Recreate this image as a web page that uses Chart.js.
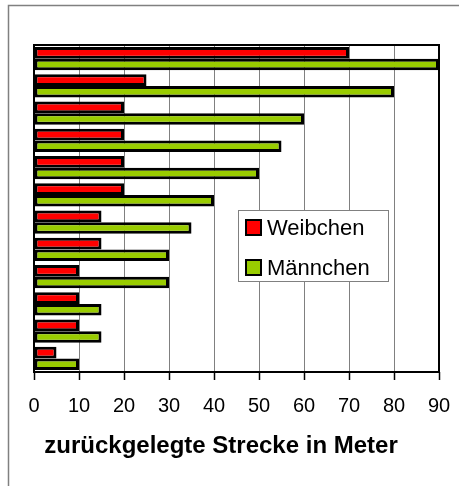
<!DOCTYPE html>
<html>
<head>
<meta charset="utf-8">
<script src="https://cdn.jsdelivr.net/npm/chart.js@4/dist/chart.umd.min.js"></script>
<style>
  html, body { margin: 0; padding: 0; background: #fff; }
  #wrap { width: 459px; height: 486px; position: relative; }
</style>
</head>
<body>
<div id="wrap"><canvas id="chart"></canvas></div>
<script>
// ------------ DATA -------------
const categories = ["1", "2", "3", "4", "5", "6", "7", "8", "9", "10", "11", "12"];
const weibchen = [70, 25, 20, 20, 20, 20, 15, 15, 10, 10, 10, 5];
const maennchen = [90, 80, 60, 55, 50, 40, 35, 30, 30, 15, 15, 10];
const xTicks = [0, 10, 20, 30, 40, 50, 60, 70, 80, 90];
const axisTitle = "zurückgelegte Strecke in Meter";

const FONT = "'Liberation Sans', Arial, sans-serif";

// frame, plot border, axis title and the legend box inside the plot
const decorPlugin = {
    id: "decor",
    beforeDraw(chart) {
        const ctx = chart.ctx;
        ctx.save();
        ctx.fillStyle = "#fff";
        ctx.fillRect(0, 0, chart.width, chart.height);
        ctx.strokeStyle = "#808080";
        ctx.lineWidth = 1.5;
        ctx.strokeRect(8.5, 5.5, chart.width + 20, chart.height + 20);
        ctx.restore();
    },
    afterDraw(chart) {
        const ctx = chart.ctx;
        const a = chart.chartArea;
        ctx.save();
        // plot border
        ctx.strokeStyle = "#000";
        ctx.lineWidth = 2;
        ctx.strokeRect(a.left, a.top, a.right - a.left, a.bottom - a.top);

        // axis title
        ctx.fillStyle = "#000";
        ctx.font = "bold 24px " + FONT;
        ctx.textAlign = "center";
        ctx.textBaseline = "alphabetic";
        ctx.fillText(axisTitle, 221, 453);

        // legend
        ctx.fillStyle = "#fff";
        ctx.fillRect(238, 210, 150, 71);
        ctx.strokeStyle = "#808080";
        ctx.lineWidth = 1;
        ctx.strokeRect(238.5, 210.5, 150, 71);
        const rows = [228, 268];
        chart.data.datasets.forEach((ds, i) => {
            const cy = rows[i];
            ctx.fillStyle = ds.backgroundColor;
            ctx.fillRect(246, cy - 8, 15, 15);
            ctx.strokeStyle = "#000";
            ctx.lineWidth = 2;
            ctx.strokeRect(246, cy - 8, 15, 15);
            ctx.fillStyle = "#000";
            ctx.font = "22px " + FONT;
            ctx.textAlign = "left";
            ctx.textBaseline = "middle";
            ctx.fillText(ds.label, 267, cy + 1);
        });
        ctx.restore();
    }
};

const chart = new Chart(document.getElementById("chart"), {
    type: "bar",
    data: {
        labels: categories,
        datasets: [
            {
                label: "Weibchen",
                data: weibchen,
                backgroundColor: "#ff0000",
                borderColor: "#000",
                borderWidth: 3,
                borderSkipped: false,
                categoryPercentage: 0.85,
                barPercentage: 1.0
            },
            {
                label: "Männchen",
                data: maennchen,
                backgroundColor: "#99cc00",
                borderColor: "#000",
                borderWidth: 3,
                borderSkipped: false,
                categoryPercentage: 0.85,
                barPercentage: 1.0
            }
        ]
    },
    options: {
        indexAxis: "y",
        responsive: true,
        maintainAspectRatio: false,
        animation: false,
        layout: { padding: { left: 34, right: 20, top: 45, bottom: 0 } },
        plugins: {
            legend: { display: false },
            tooltip: { enabled: false }
        },
        scales: {
            x: {
                min: 0,
                max: 90,
                afterBuildTicks: (scale) => { scale.ticks = xTicks.map(v => ({ value: v })); },
                afterFit: (scale) => {
                    scale.height = 114;
                    scale.paddingLeft = 0;
                    scale.paddingRight = 0;
                },
                grid: {
                    color: "#808080",
                    lineWidth: 1,
                    tickColor: "#000",
                    tickLength: 8,
                    tickWidth: 1.5
                },
                border: { display: false },
                ticks: {
                    color: "#000",
                    font: { family: FONT, size: 20 },
                    padding: 14,
                    maxRotation: 0,
                    autoSkip: false
                }
            },
            y: {
                afterFit: (scale) => { scale.width = 0; },
                grid: { display: false },
                border: { display: false },
                ticks: { display: false }
            }
        }
    },
    plugins: [decorPlugin]
});
</script>
</body>
</html>
